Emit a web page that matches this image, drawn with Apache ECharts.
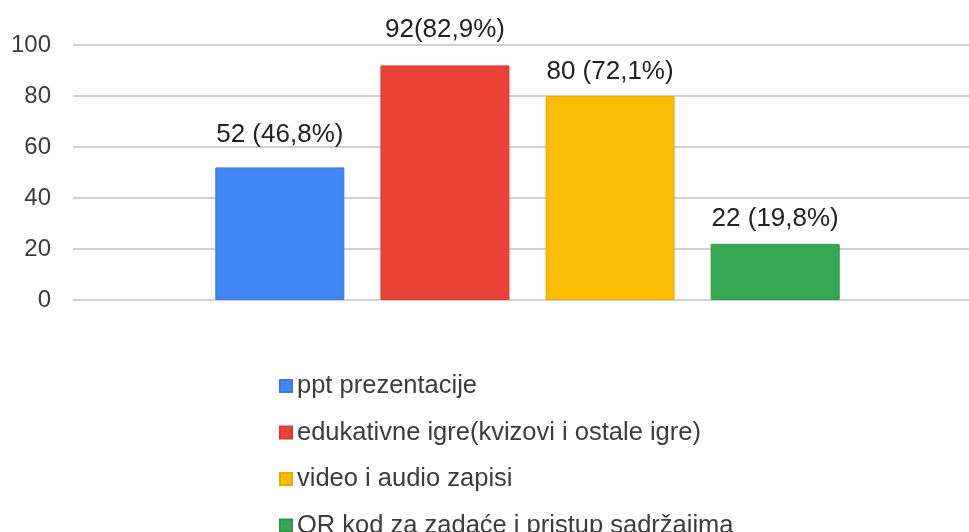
<!DOCTYPE html>
<html>
<head>
<meta charset="utf-8">
<script src="https://cdn.jsdelivr.net/npm/echarts@6/dist/echarts.min.js"></script>
<style>
  html, body { margin: 0; padding: 0; background: #fff; }
  #chart { width: 969px; height: 532px; }
</style>
</head>
<body>
<div id="chart"></div>
<script>
const seriesNames = [
  'ppt prezentacije',
  'edukativne igre(kvizovi i ostale igre)',
  'video i audio zapisi',
  'QR kod za zadaće i pristup sadržajima',
];
const seriesValues = [52, 92, 80, 22];
const barLabels = ['52 (46,8%)', '92(82,9%)', '80 (72,1%)', '22 (19,8%)'];
const yTicks = [0, 20, 40, 60, 80, 100];

const colors = ['#4285f4', '#ea4335', '#fbbc04', '#34a853'];
const borders = ['#3b78e0', '#d33b2e', '#e6ac00', '#2e9649'];
const labelGaps = [20, 23, 11, 12];
const font = '"Liberation Sans", Arial, sans-serif';

const chart = echarts.init(document.getElementById('chart'));

chart.setOption({
  animation: false,
  textStyle: { fontFamily: font },
  grid: {
    left: 73,
    right: -13,
    top: 45,
    bottom: 232,
    containLabel: false,
    outerBoundsMode: 'none',
  },
  legend: {
    orient: 'vertical',
    left: 274,
    top: 368,
    height: 200,
    icon: 'rect',
    itemWidth: 12,
    itemHeight: 12,
    itemGap: 20.5,
    data: seriesNames,
    textStyle: {
      fontSize: 25.5,
      lineHeight: 25,
      color: '#3c3c3c',
      fontFamily: font,
    },
  },
  xAxis: {
    type: 'category',
    data: [''],
    axisLine: { show: false },
    axisTick: { show: false },
    axisLabel: { show: false },
  },
  yAxis: {
    type: 'value',
    min: yTicks[0],
    max: yTicks[yTicks.length - 1],
    interval: 20,
    axisLine: { show: false },
    axisTick: { show: false },
    axisLabel: {
      fontSize: 24,
      color: '#3c3c3c',
      margin: 22,
      fontFamily: font,
    },
    splitLine: {
      lineStyle: { color: '#d0d0d0', width: 2 },
    },
  },
  series: seriesNames.map((name, i) => ({
    name,
    type: 'bar',
    data: [seriesValues[i]],
    barWidth: 129,
    barGap: '28%',
    itemStyle: {
      color: colors[i],
      borderColor: borders[i],
      borderWidth: 1,
    },
    label: {
      show: true,
      position: 'top',
      distance: labelGaps[i],
      formatter: () => barLabels[i],
      fontSize: 26,
      color: '#222',
      fontFamily: font,
    },
  })),
});
</script>
</body>
</html>
